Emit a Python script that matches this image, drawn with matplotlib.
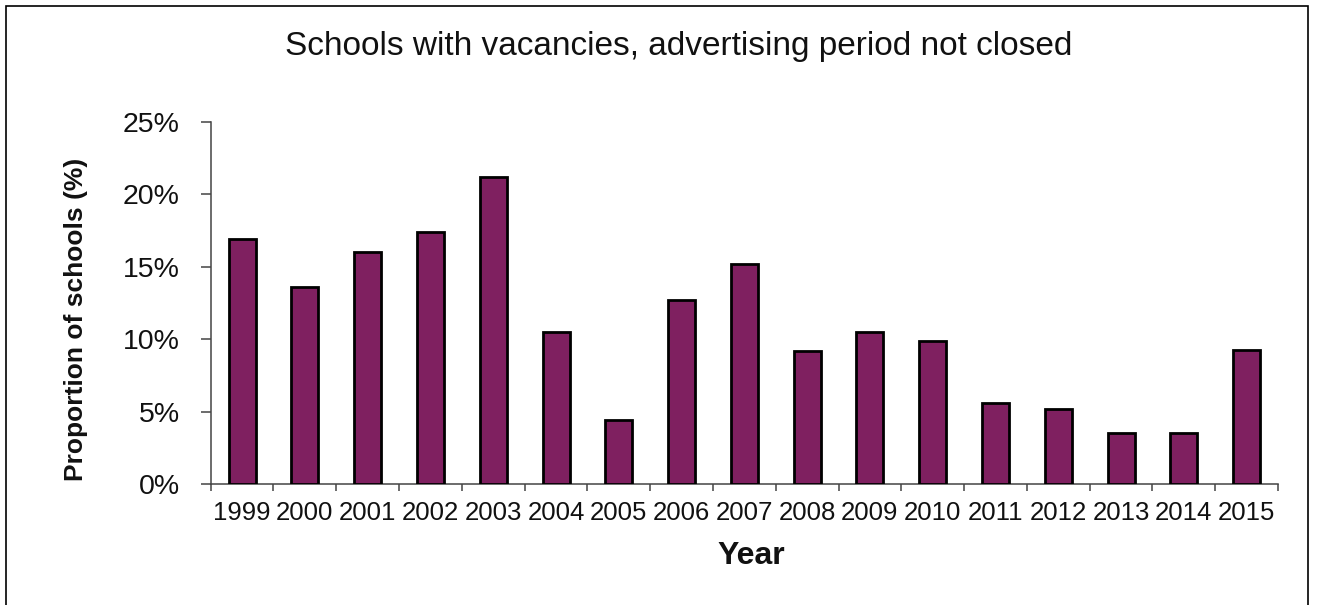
import matplotlib
matplotlib.use("Agg")
import matplotlib.pyplot as plt
import numpy as np
from matplotlib.patches import Rectangle
from matplotlib.ticker import FuncFormatter

years = ["1999", "2000", "2001", "2002", "2003", "2004", "2005", "2006", "2007",
         "2008", "2009", "2010", "2011", "2012", "2013", "2014", "2015"]
proportion = [16.9, 13.6, 16.0, 17.4, 21.2, 10.5, 4.4, 12.7, 15.2,
              9.2, 10.5, 9.9, 5.6, 5.2, 3.5, 3.5, 9.25]
y_ticks = [0, 5, 10, 15, 20, 25]

title = "Schools with vacancies, advertising period not closed"
xlabel = "Year"
ylabel = "Proportion of schools (%)"

plt.rcParams['font.family'] = ['Liberation Sans', 'DejaVu Sans']

W, H = 1317, 605
fig = plt.figure(figsize=(W / 100, H / 100), dpi=100)
fig.patch.set_facecolor("white")

ax_l, ax_r, ax_t, ax_b = 210.7, 1278, 122, 484
ax = fig.add_axes([ax_l / W, 1 - ax_b / H, (ax_r - ax_l) / W, (ax_b - ax_t) / H])

x = np.arange(len(years))
ax.bar(x, proportion, width=0.43, color="#7f2060", edgecolor="black", linewidth=2.0, zorder=3)

ax.set_xlim(-0.5, len(years) - 0.5)
ax.set_ylim(0, 25)

for s in ["top", "right"]:
    ax.spines[s].set_visible(False)
for s in ["left", "bottom"]:
    ax.spines[s].set_color("#444444")
    ax.spines[s].set_linewidth(1.1)

ax.set_xticks(x)
ax.set_xticklabels(years, fontsize=18.5, color="#111111")
ax.set_xticks(np.arange(-0.5, len(years), 1), minor=True)
ax.tick_params(axis="x", which="major", length=0, pad=12)
ax.tick_params(axis="x", which="minor", length=5, width=1.1, color="#444444", direction="out")

ax.set_yticks(y_ticks)
ax.yaxis.set_major_formatter(FuncFormatter(lambda v, p: f"{int(v)}%"))
ax.tick_params(axis="y", length=7.2, width=1.1, color="#444444", direction="out",
               labelsize=20.5, pad=15, labelcolor="#111111")

fig.text(679 / W, 1 - 46 / H, title, fontsize=24, ha="center", va="center", color="#111111")
fig.text(751 / W, 1 - 556 / H, xlabel, fontsize=23, fontweight="bold", ha="center", va="center", color="#111111")
fig.text(76 / W, 1 - 319.5 / H, ylabel, fontsize=19, fontweight="bold", rotation=90,
         ha="center", va="center", color="#111111")

# outer frame
fig.add_artist(Rectangle((5.5 / W, -0.05), (1308 - 5.5) / W, 1.05 - 6 / H,
                         transform=fig.transFigure, fill=False, edgecolor="black", linewidth=1.2))

fig.savefig("out.png", dpi=100, facecolor="white")
